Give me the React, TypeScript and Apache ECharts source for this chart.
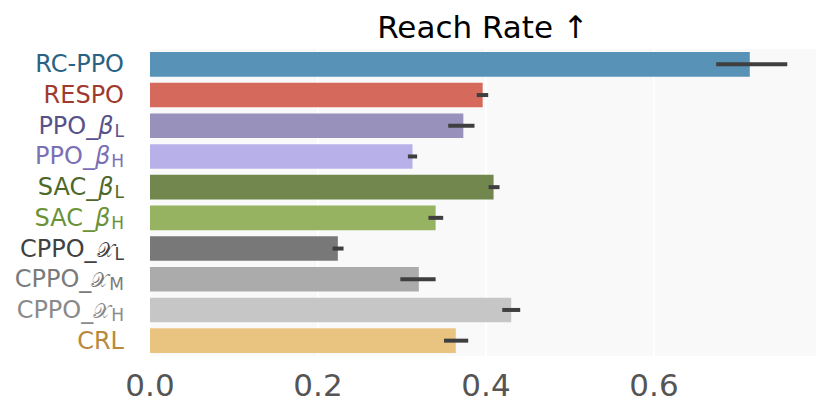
import React, { useEffect, useRef } from "react";
import * as echarts from "echarts";

const labelBase = ["RC-PPO", "RESPO", "PPO_", "PPO_", "SAC_", "SAC_", "CPPO_", "CPPO_", "CPPO_", "CRL"];
const labelSym = ["", "", "β", "β", "β", "β", "𝒳", "𝒳", "𝒳", ""];
const labelSub = ["", "", "L", "H", "L", "H", "L", "M", "H", ""];
const categories = labelBase.map((b, i) => b + labelSym[i] + labelSub[i]);

const reachRate = [0.714, 0.396, 0.373, 0.3125, 0.409, 0.340, 0.2236, 0.320, 0.430, 0.364];
const errLow = [0.674, 0.389, 0.355, 0.307, 0.403, 0.3315, 0.2173, 0.298, 0.4193, 0.350];
const errHigh = [0.7586, 0.4026, 0.3863, 0.318, 0.4161, 0.349, 0.2304, 0.340, 0.4407, 0.3788];

const barColors = ["#5892b6", "#d4695c", "#9791bb", "#b8b0e8", "#71874e", "#96b362", "#787878", "#ababab", "#c6c6c6", "#e9c380"];
const labelColors = ["#2a6284", "#a13a2e", "#58528c", "#7b6fb5", "#4d6828", "#6a9236", "#414141", "#7a7a7a", "#8a8a8a", "#b8893c"];

const xTicks = [0, 0.2, 0.4, 0.6];

export default function App() {
  const ref = useRef<HTMLDivElement>(null);
  useEffect(() => {
    if (!ref.current) return;
    const chart = echarts.init(ref.current, null, { renderer: "svg" });
    const font = "DejaVu Sans";
    const rich: any = {};
    categories.forEach((_, i) => {
      const isX = labelSym[i] === "𝒳";
      rich["n" + i] = { color: labelColors[i], fontSize: 24, fontFamily: font, lineHeight: 30 };
      rich["m" + i] = {
        color: labelColors[i],
        fontSize: isX ? 20 : 24,
        fontFamily: font,
        fontStyle: isX ? "normal" : "italic",
        lineHeight: 30,
        padding: isX ? [2, 0, 0, 0] : [0, 0, 0, 0],
      };
      rich["s" + i] = { color: labelColors[i], fontSize: 17, fontFamily: font, lineHeight: 30, padding: [10, 0, 0, 1] };
    });
    const errData = categories.map((_, i) => [i, errLow[i], errHigh[i]]);
    chart.setOption({
      animation: false,
      grid: {
        left: 150,
        right: 14,
        top: 49,
        bottom: 61,
        show: true,
        backgroundColor: "#f9f9f9",
        borderWidth: 0,
      },
      graphic: [
        {
          type: "text",
          x: 483,
          y: 27,
          style: {
            text: "Reach Rate ↑",
            fontSize: 31,
            fontFamily: font,
            fill: "#000",
            align: "center",
            verticalAlign: "middle",
          },
        },
      ],
      xAxis: {
        type: "value",
        min: 0,
        max: 0.794,
        interval: 0.2,
        axisLine: { show: false },
        axisTick: { show: false },
        splitLine: { show: true, lineStyle: { color: "#ffffff", width: 2 } },
        axisLabel: {
          fontSize: 31,
          fontFamily: font,
          color: "#555555",
          margin: 13,
          showMaxLabel: false,
          formatter: (v: number) => {
            const hit = xTicks.find((t) => Math.abs(t - v) < 1e-6);
            return hit === undefined ? "" : hit.toFixed(1);
          },
        },
      },
      yAxis: {
        type: "category",
        data: categories,
        inverse: true,
        axisLine: { show: false },
        axisTick: { show: false },
        splitLine: { show: false },
        axisLabel: {
          margin: 26,
          rich,
          formatter: (_v: string, i: number) => {
            let s = `{n${i}|${labelBase[i]}}`;
            if (labelSym[i]) s += `{m${i}|${labelSym[i]}}`;
            if (labelSub[i]) s += `{s${i}|${labelSub[i]}}`;
            return s;
          },
        },
      },
      series: [
        {
          type: "bar",
          barCategoryGap: "20%",
          data: reachRate.map((v, i) => ({ value: v, itemStyle: { color: barColors[i] } })),
        },
        {
          type: "custom",
          data: errData,
          encode: { x: [1, 2], y: 0 },
          z: 10,
          renderItem: (params: any, api: any) => {
            const idx = api.value(0);
            const lo = api.coord([api.value(1), idx]);
            const hi = api.coord([api.value(2), idx]);
            return {
              type: "rect",
              shape: { x: lo[0], y: lo[1] - 2, width: hi[0] - lo[0], height: 4 },
              style: { fill: "#3f3f3f" },
            };
          },
        },
      ],
    });
    return () => chart.dispose();
  }, []);
  return <div ref={ref} style={{ width: 831, height: 417, position: "absolute", left: 0, top: 0 }} />;
}
